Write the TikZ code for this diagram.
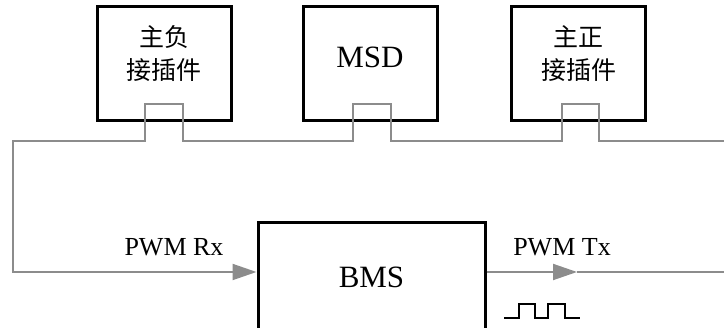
\documentclass[tikz,border=0pt]{standalone}
\usepackage{fontspec}
\setmainfont{Liberation Serif}
\newfontfamily\cjk{Noto Sans CJK SC}
\usetikzlibrary{arrows.meta}

\definecolor{wiregray}{HTML}{8C8C8C}
\tikzset{
  unitbox/.style={draw=black,line width=3pt,minimum width=134,minimum height=114,inner sep=0pt},
  wire/.style={draw=wiregray,line width=2pt},
  sigtip/.style={-{Triangle[length=24pt,width=16pt,fill=wiregray]}},
  lbl/.style={font=\fontsize{26}{28}\selectfont,inner sep=0pt},
  big/.style={font=\fontsize{31}{34}\selectfont,inner sep=0pt},
  hanzi/.style={font=\cjk\fontsize{25}{33}\selectfont,align=center,inner sep=0pt}
}

\begin{document}
\begin{tikzpicture}[x=1pt,y=1pt]
\useasboundingbox (0,0) rectangle (724,328);
% contactor boxes
\node[unitbox] (neg) at (164,264) {};
\node[hanzi] (negtxt) at ([yshift=10]neg.center) {主负\\接插件};
\node[unitbox] (msd) at (370,264) {};
\node[big] (msdtxt) at ([yshift=7]msd.center) {MSD};
\node[unitbox] (pos) at (578.5,264) {};
\node[hanzi] (postxt) at ([yshift=10]pos.center) {主正\\接插件};
% BMS, runs off the bottom
\begin{scope}
\clip (0,0) rectangle (724,328);
\node[draw=black,line width=3pt,minimum width=227,minimum height=135,inner sep=0pt] (bms) at (371.5,37.5) {};
\end{scope}
\node[big] (bmstxt) at (371.5,51) {BMS};
% loop through the notches
\draw[wire,sigtip] (724,187)
  -- ([xshift=20]pos.south |- 0,187) -- ([xshift=20,yshift=18]pos.south)
  -- ([xshift=-17,yshift=18]pos.south) -- ([xshift=-17]pos.south |- 0,187)
  -- ([xshift=21]msd.south |- 0,187) -- ([xshift=21,yshift=18]msd.south)
  -- ([xshift=-17,yshift=18]msd.south) -- ([xshift=-17]msd.south |- 0,187)
  -- ([xshift=19]neg.south |- 0,187) -- ([xshift=19,yshift=18]neg.south)
  -- ([xshift=-19,yshift=18]neg.south) -- ([xshift=-19]neg.south |- 0,187)
  -- (13,187) -- (13,56) -- ([yshift=18.5]bms.west);
\node[lbl] (rx) at (174,81) {PWM Rx};
% output
\coordinate (txend) at (724,56);
\draw[wire,sigtip] ([yshift=18.5]bms.east) -- (577,56);
\draw[wire] (577,56) -- (txend);
\node[lbl] (tx) at (562,81) {PWM Tx};
\draw[line width=2pt] (504,10) -- (519,10) -- (519,24) -- (535,24) -- (535,10)
  -- (548,10) -- (548,24) -- (565,24) -- (565,10) -- (580,10);
\end{tikzpicture}
\end{document}
